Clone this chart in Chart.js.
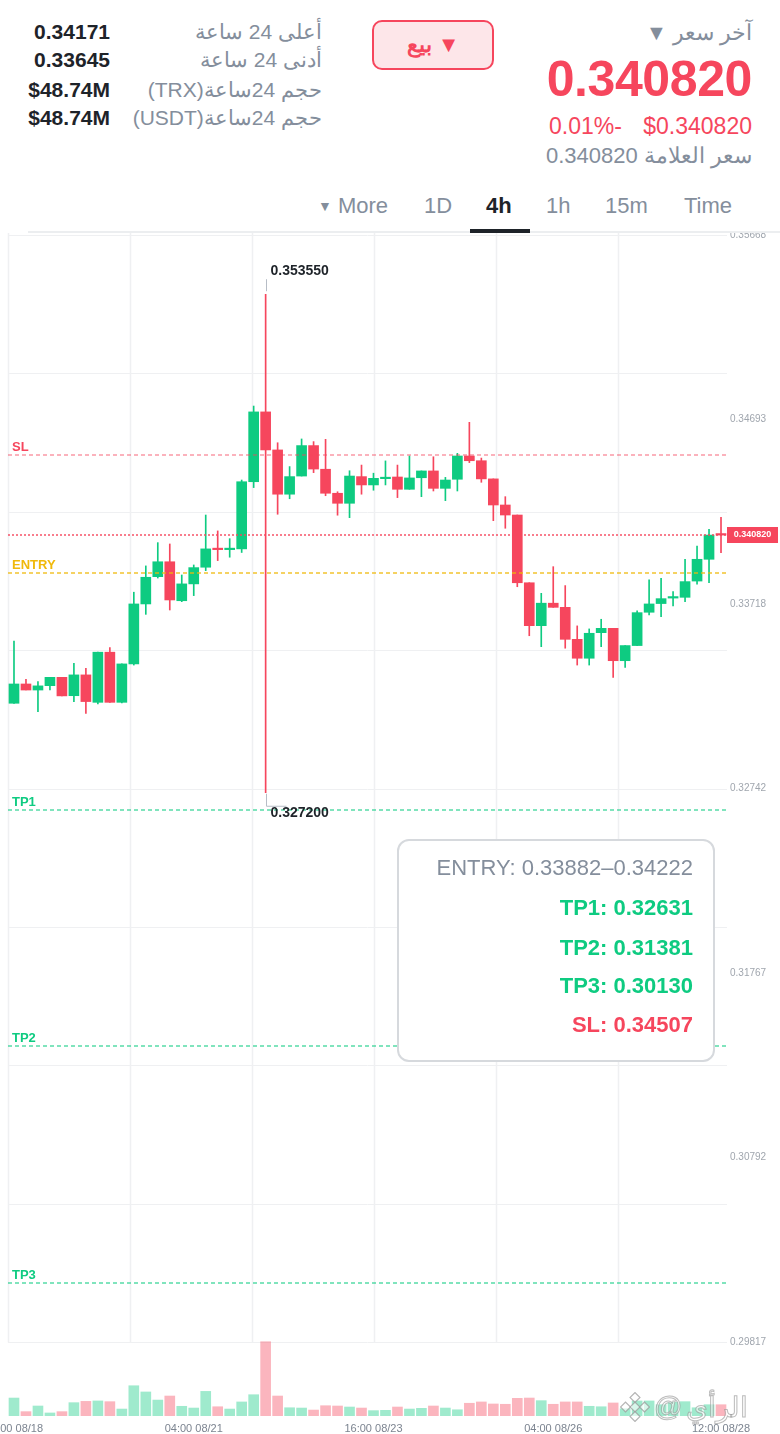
<!DOCTYPE html>
<html lang="ar">
<head>
<meta charset="utf-8">
<title>TRX/USDT 4h</title>
<script src="https://cdn.jsdelivr.net/npm/chart.js@4.4.1/dist/chart.umd.min.js"></script>
<style>
  html, body { margin: 0; padding: 0; background: #fff; }
  body { width: 780px; height: 1434px; position: relative; overflow: hidden;
         font-family: "Liberation Sans", Arial, sans-serif; color: #1e2329; }
  .abs { position: absolute; white-space: pre; }
  .gray { color: #848e9c; }
  .red { color: #f6465d; }
  .lbl { font-size: 21px; line-height: 21px; right: 458px; direction: rtl; }
  .val { font-size: 21px; line-height: 21px; right: 670px; font-weight: bold; }
  .tab { font-size: 22px; line-height: 22px; top: 195px; color: #848e9c; }
  #sell { left: 372px; top: 20px; width: 122px; height: 50px; box-sizing: border-box;
          border: 2px solid #f6465d; border-radius: 10px; background: #fde6e9;
          color: #f6465d; font-weight: bold; font-size: 22px; line-height: 46px;
          text-align: center; direction: rtl; }
  #info { left: 397px; top: 839px; width: 318px; height: 223px; box-sizing: border-box;
          border: 2px solid #d6d9dd; border-radius: 12px; background: #fff; }
  #info div { position: absolute; right: 20px; font-size: 22px; line-height: 22px; white-space: pre; }
  #wrap { position: absolute; left: 0; top: 233px; width: 780px; height: 1201px; }
  #wm { left: 620px; top: 1390px; height: 34px; display: flex; align-items: center; gap: 4px;
        font-size: 28px; color: rgba(255,255,255,0.55);
        -webkit-text-stroke: 1px rgba(150,150,150,0.65); }
</style>
</head>
<body>

<!-- ملخص السوق -->
<div class="abs lbl gray" style="top:21px">أعلى 24 ساعة</div>
<div class="abs lbl gray" style="top:49px">أدنى 24 ساعة</div>
<div class="abs lbl gray" style="top:79px">حجم 24ساعة(TRX)</div>
<div class="abs lbl gray" style="top:107px">حجم 24ساعة(USDT)</div>
<div class="abs val" style="top:21px">0.34171</div>
<div class="abs val" style="top:49px">0.33645</div>
<div class="abs val" style="top:79px">$48.74M</div>
<div class="abs val" style="top:107px">$48.74M</div>

<div id="sell" class="abs">▼ بيع</div>

<div class="abs gray" style="right:28px;top:23px;font-size:21.5px;line-height:21.5px;direction:rtl">آخر سعر ▼</div>
<div class="abs red" style="right:28px;top:54px;font-size:50px;line-height:50px;font-weight:bold;letter-spacing:-0.4px">0.340820</div>
<div class="abs red" style="left:549px;top:115px;font-size:23px;line-height:23px">0.01%-</div>
<div class="abs red" style="right:28px;top:115px;font-size:23px;line-height:23px">$0.340820</div>
<div class="abs gray" style="right:28px;top:145px;font-size:22px;line-height:22px;direction:rtl">سعر العلامة 0.340820</div>

<!-- الفترات -->
<div class="abs tab" style="left:318px"><span style="font-size:14px;vertical-align:2px">▼</span> More</div>
<div class="abs tab" style="left:424px">1D</div>
<div class="abs tab" style="left:486px;color:#1e2329;font-weight:bold">4h</div>
<div class="abs tab" style="left:546px">1h</div>
<div class="abs tab" style="left:605px">15m</div>
<div class="abs tab" style="left:684px">Time</div>
<div class="abs" style="left:28px;top:231px;width:752px;height:2px;background:#eceef0"></div>
<div class="abs" style="left:470px;top:229px;width:60px;height:4px;background:#1e2329"></div>

<div id="wrap"><canvas id="wykres"></canvas></div>

<div id="info" class="abs">
  <div class="gray" style="top:16px">ENTRY: 0.33882–0.34222</div>
  <div style="top:56px;color:#0ecb81;font-weight:bold">TP1: 0.32631</div>
  <div style="top:96px;color:#0ecb81;font-weight:bold">TP2: 0.31381</div>
  <div style="top:134px;color:#0ecb81;font-weight:bold">TP3: 0.30130</div>
  <div style="top:173px;color:#f6465d;font-weight:bold">SL: 0.34507</div>
</div>

<div id="wm" class="abs">
  <svg width="30" height="30" viewBox="0 0 30 30">
    <g fill="rgba(255,255,255,0.6)" stroke="rgba(150,150,150,0.7)" stroke-width="1.2">
      <rect x="11.5" y="2" width="7" height="7" transform="rotate(45 15 5.5)"/>
      <rect x="2" y="11.5" width="7" height="7" transform="rotate(45 5.5 15)"/>
      <rect x="11.5" y="11.5" width="7" height="7" transform="rotate(45 15 15)"/>
      <rect x="21" y="11.5" width="7" height="7" transform="rotate(45 24.5 15)"/>
      <rect x="11.5" y="21" width="7" height="7" transform="rotate(45 15 24.5)"/>
    </g>
  </svg>
  <span>@</span><span dir="rtl">الرأي</span>
</div>

<script>
// شموع 4 ساعات TRX/USDT
const labels = [
  '16:00 08/18', '20:00 08/18',
  '00:00 08/19', '04:00 08/19', '08:00 08/19', '12:00 08/19', '16:00 08/19', '20:00 08/19',
  '00:00 08/20', '04:00 08/20', '08:00 08/20', '12:00 08/20', '16:00 08/20', '20:00 08/20',
  '00:00 08/21', '04:00 08/21', '08:00 08/21', '12:00 08/21', '16:00 08/21', '20:00 08/21',
  '00:00 08/22', '04:00 08/22', '08:00 08/22', '12:00 08/22', '16:00 08/22', '20:00 08/22',
  '00:00 08/23', '04:00 08/23', '08:00 08/23', '12:00 08/23', '16:00 08/23', '20:00 08/23',
  '00:00 08/24', '04:00 08/24', '08:00 08/24', '12:00 08/24', '16:00 08/24', '20:00 08/24',
  '00:00 08/25', '04:00 08/25', '08:00 08/25', '12:00 08/25', '16:00 08/25', '20:00 08/25',
  '00:00 08/26', '04:00 08/26', '08:00 08/26', '12:00 08/26', '16:00 08/26', '20:00 08/26',
  '00:00 08/27', '04:00 08/27', '08:00 08/27', '12:00 08/27', '16:00 08/27', '20:00 08/27',
  '00:00 08/28', '04:00 08/28', '08:00 08/28', '12:00 08/28'
];

const opens = [
  0.33193, 0.33295, 0.33263, 0.33286, 0.33330, 0.33233, 0.33343, 0.33198, 0.33463, 0.33198,
  0.33401, 0.33718, 0.33862, 0.33941, 0.33735, 0.33824, 0.33912, 0.34009, 0.34005, 0.34009,
  0.34364, 0.34733, 0.34532, 0.34298, 0.34394, 0.34555, 0.34430, 0.34303, 0.34250, 0.34391,
  0.34347, 0.34380, 0.34389, 0.34324, 0.34385, 0.34421, 0.34329, 0.34377, 0.34500, 0.34475,
  0.34379, 0.34241, 0.34188, 0.33830, 0.33603, 0.33722, 0.33700, 0.33531, 0.33431, 0.33566,
  0.33589, 0.33418, 0.33498, 0.33674, 0.33720, 0.33749, 0.33753, 0.33839, 0.33954, 0.34083
];
const highs = [
  0.33522, 0.33320, 0.33307, 0.33330, 0.33330, 0.33404, 0.33378, 0.33463, 0.33487, 0.33401,
  0.33780, 0.33919, 0.34042, 0.34035, 0.33871, 0.33924, 0.34188, 0.34104, 0.34063, 0.34373,
  0.34764, 0.35355, 0.34570, 0.34444, 0.34590, 0.34576, 0.34588, 0.34311, 0.34422, 0.34452,
  0.34409, 0.34474, 0.34452, 0.34500, 0.34421, 0.34496, 0.34387, 0.34514, 0.34678, 0.34489,
  0.34379, 0.34285, 0.34188, 0.33830, 0.33774, 0.33915, 0.33815, 0.33602, 0.33586, 0.33637,
  0.33589, 0.33498, 0.33682, 0.33845, 0.33854, 0.33783, 0.33954, 0.34024, 0.34113, 0.34176
];
const lows = [
  0.33192, 0.33263, 0.33149, 0.33263, 0.33232, 0.33202, 0.33140, 0.33190, 0.33198, 0.33195,
  0.33395, 0.33663, 0.33855, 0.33686, 0.33730, 0.33762, 0.33894, 0.33947, 0.33965, 0.33990,
  0.34333, 0.32720, 0.34192, 0.34274, 0.34394, 0.34412, 0.34290, 0.34187, 0.34174, 0.34298,
  0.34319, 0.34347, 0.34280, 0.34324, 0.34285, 0.34315, 0.34264, 0.34315, 0.34465, 0.34361,
  0.34158, 0.34118, 0.33809, 0.33550, 0.33492, 0.33700, 0.33484, 0.33395, 0.33395, 0.33492,
  0.33330, 0.33383, 0.33498, 0.33660, 0.33651, 0.33707, 0.33730, 0.33822, 0.33830, 0.33989
];
const closes = [
  0.33295, 0.33263, 0.33285, 0.33330, 0.33232, 0.33343, 0.33202, 0.33463, 0.33198, 0.33401,
  0.33718, 0.33859, 0.33941, 0.33739, 0.33824, 0.33910, 0.34009, 0.34005, 0.34009, 0.34364,
  0.34733, 0.34532, 0.34298, 0.34391, 0.34555, 0.34431, 0.34303, 0.34250, 0.34394, 0.34347,
  0.34382, 0.34387, 0.34324, 0.34384, 0.34421, 0.34329, 0.34373, 0.34500, 0.34475, 0.34379,
  0.34241, 0.34188, 0.33830, 0.33603, 0.33722, 0.33700, 0.33531, 0.33431, 0.33563, 0.33589,
  0.33418, 0.33498, 0.33672, 0.33718, 0.33746, 0.33751, 0.33836, 0.33954, 0.34082, 0.34082
];
// الحجم بالمليون
const volumes = [
  12.4, 3.0, 6.9, 2.1, 3.0, 9.2, 10.1, 10.4, 9.9, 4.8,
  20.9, 16.6, 11.0, 13.8, 6.7, 5.5, 17.0, 6.4, 4.8, 9.7,
  14.7, 51.3, 13.8, 5.7, 5.5, 4.1, 7.1, 6.9, 6.2, 5.5,
  3.7, 3.9, 6.2, 4.8, 5.3, 6.9, 5.5, 4.3, 8.8, 9.7,
  8.3, 8.1, 12.2, 12.4, 10.6, 8.1, 9.7, 9.7, 6.7, 6.4,
  9.0, 5.0, 10.4, 10.4, 7.8, 9.5, 9.9, 5.7, 7.8, 7.8
];

const tickIdx = [0, 15, 30, 45, 59];
const priceTicks = [0.35668, 0.34693, 0.33718, 0.32742, 0.31767, 0.30792, 0.29817];
const gridPrices = [0.29817, 0.30548, 0.31280, 0.32011, 0.32742, 0.33473, 0.34205, 0.34936, 0.35667];
const gridSlots = [-0.5, 9.68, 19.86, 30.04, 40.22, 50.41];

const levelNames = ['SL', 'ENTRY', 'TP1', 'TP2', 'TP3'];
const levelValues = [0.34507, 0.33882, 0.32631, 0.31381, 0.30130];
const lastPrice = 0.34082;

const UP = '#0ecb81';
const DOWN = '#f6465d';
const levelColors = { SL: 'rgba(246,70,93,0.55)', ENTRY: 'rgba(240,185,11,0.85)', TP1: 'rgba(14,203,129,0.7)', TP2: 'rgba(14,203,129,0.7)', TP3: 'rgba(14,203,129,0.7)' };
const levelText = { SL: '#f6465d', ENTRY: '#f0b90b', TP1: '#0ecb81', TP2: '#0ecb81', TP3: '#0ecb81' };

const candleColors = closes.map((c, i) => c > opens[i] ? UP : DOWN);
const volColors = closes.map((c, i) => c > opens[i] ? 'rgba(14,203,129,0.4)' : 'rgba(246,70,93,0.4)');

Chart.defaults.font.family = '"Liberation Sans", Arial, sans-serif';

const liniePlugin = {
  id: 'linie',
  beforeDatasetsDraw(chart) {
    const ctx = chart.ctx, a = chart.chartArea, x = chart.scales.x, y = chart.scales.y;
    const yBottom = Math.round(y.getPixelForValue(gridPrices[0])) + 0.5;
    ctx.save();
    ctx.strokeStyle = '#eff0f2';
    ctx.lineWidth = 1;
    gridPrices.forEach(function (v) {
      const py = Math.round(y.getPixelForValue(v)) + 0.5;
      ctx.beginPath(); ctx.moveTo(a.left, py); ctx.lineTo(a.right, py); ctx.stroke();
    });
    ctx.lineWidth = 1.5;
    gridSlots.forEach(function (v) {
      const px = Math.round(x.getPixelForValue(v)) + 0.5;
      ctx.beginPath(); ctx.moveTo(px, a.top); ctx.lineTo(px, yBottom); ctx.stroke();
    });
    ctx.restore();
  },
  afterDatasetsDraw(chart) {
    const ctx = chart.ctx, a = chart.chartArea, x = chart.scales.x, y = chart.scales.y;
    ctx.save();

    // poziomy SL / ENTRY / TP
    levelNames.forEach(function (name, i) {
      const py = Math.round(y.getPixelForValue(levelValues[i]));
      ctx.lineWidth = 1.6;
      ctx.setLineDash([4, 3]);
      ctx.strokeStyle = levelColors[name];
      ctx.beginPath(); ctx.moveTo(a.left, py); ctx.lineTo(a.right, py); ctx.stroke();
      ctx.setLineDash([]);
      ctx.fillStyle = levelText[name];
      ctx.font = 'bold 13px "Liberation Sans", Arial, sans-serif';
      ctx.textAlign = 'left';
      ctx.textBaseline = 'alphabetic';
      ctx.fillText(name, a.left + 4, py - 4);
    });

    // ostatnia cena
    const pl = Math.round(y.getPixelForValue(lastPrice));
    ctx.lineWidth = 1.4;
    ctx.setLineDash([2, 2]);
    ctx.strokeStyle = DOWN;
    ctx.beginPath(); ctx.moveTo(a.left, pl); ctx.lineTo(a.right, pl); ctx.stroke();
    ctx.setLineDash([]);
    ctx.fillStyle = DOWN;
    ctx.fillRect(a.right, pl - 8, 51, 16);
    ctx.fillStyle = '#fff';
    ctx.font = 'bold 9px "Liberation Sans", Arial, sans-serif';
    ctx.textAlign = 'center';
    ctx.textBaseline = 'middle';
    ctx.fillText(lastPrice.toFixed(6), a.right + 25.5, pl);

    // max / min
    const hi = highs.indexOf(Math.max.apply(null, highs));
    const lo = lows.indexOf(Math.min.apply(null, lows));
    const hx = Math.round(x.getPixelForValue(hi)) + 0.5;
    const hy = y.getPixelForValue(highs[hi]);
    const lx = Math.round(x.getPixelForValue(lo)) + 0.5;
    const ly = y.getPixelForValue(lows[lo]);
    ctx.lineWidth = 1;
    ctx.strokeStyle = '#b7bdc6';
    ctx.beginPath(); ctx.moveTo(hx, hy - 3); ctx.lineTo(hx, hy - 15); ctx.stroke();
    ctx.beginPath(); ctx.moveTo(lx, ly + 1); ctx.lineTo(lx, ly + 13.5); ctx.lineTo(lx + 20, ly + 13.5); ctx.stroke();
    ctx.fillStyle = '#1e2329';
    ctx.font = 'bold 14px "Liberation Sans", Arial, sans-serif';
    ctx.textAlign = 'left';
    ctx.fillText(highs[hi].toFixed(6), hx + 4, hy - 23);
    ctx.fillText(lows[lo].toFixed(6), lx + 4, ly + 20);
    ctx.restore();
  }
};

const ctx = document.getElementById('wykres');

window.wykres = new Chart(ctx, {
  type: 'bar',
  data: {
    labels: labels,
    datasets: [
      {
        label: 'body',
        data: opens.map((o, i) => [o, closes[i]]),
        backgroundColor: candleColors,
        barThickness: 10,
        minBarLength: 1.5,
        grouped: false,
        order: 1,
        yAxisID: 'y'
      },
      {
        label: 'wick',
        data: lows.map((l, i) => [l, highs[i]]),
        backgroundColor: candleColors,
        barThickness: 1,
        grouped: false,
        order: 2,
        yAxisID: 'y'
      },
      {
        label: 'volume',
        data: volumes,
        backgroundColor: volColors,
        barThickness: 10,
        grouped: false,
        order: 3,
        yAxisID: 'yVol'
      }
    ]
  },
  options: {
    responsive: true,
    maintainAspectRatio: false,
    animation: false,
    events: [],
    layout: { padding: { left: 8, right: 0, top: 0, bottom: 0 } },
    plugins: { legend: { display: false }, tooltip: { enabled: false } },
    scales: {
      x: {
        type: 'category',
        offset: true,
        grid: { display: false, drawTicks: false },
        border: { display: false },
        ticks: {
          autoSkip: false, maxRotation: 0, minRotation: 0, padding: 6,
          color: '#7c8490', font: { size: 11 },
          callback: function (v, i) { return tickIdx.includes(i) ? labels[i] : null; }
        },
        afterFit: function (s) { s.height = 18; s.paddingLeft = 0; s.paddingRight = 0; }
      },
      y: {
        position: 'right',
        min: 0.294259,
        max: 0.356786,
        grid: { display: false, drawTicks: false },
        border: { display: false },
        ticks: {
          padding: 3, color: '#a0a6ae', font: { size: 10 },
          callback: function (v) { return Number(v).toFixed(5); }
        },
        afterBuildTicks: function (s) { s.ticks = priceTicks.map(v => ({ value: v })); },
        afterFit: function (s) { s.width = 53; s.paddingTop = 0; s.paddingBottom = 0; }
      },
      yVol: {
        display: false,
        min: 0,
        max: 817
      }
    }
  },
  plugins: [liniePlugin]
});
</script>
</body>
</html>
